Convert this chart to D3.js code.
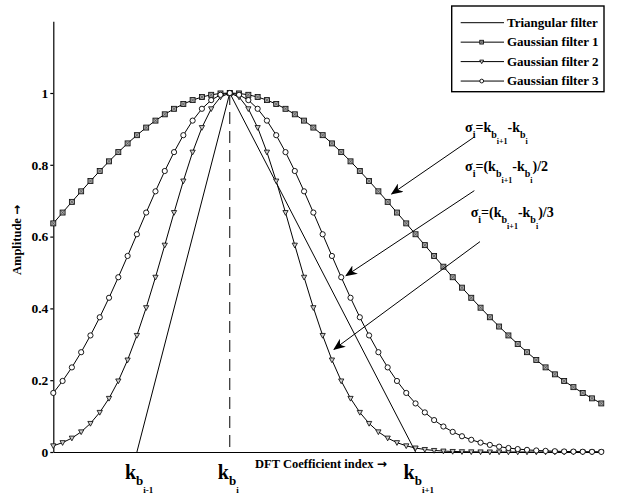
<!DOCTYPE html>
<html><head><meta charset="utf-8">
<script src="https://cdn.jsdelivr.net/npm/d3@7"></script>
<style>
body{margin:0;background:#fff}
text{font-family:"Liberation Serif","Times New Roman",serif;font-weight:bold;fill:#000}
.arr{font-family:"DejaVu Sans",sans-serif;font-weight:bold}
</style>
</head><body><svg id="c" width="628" height="496"></svg>
<script>
// ---- data ----
const coeffIndex = [0,1,2,3,4,5,6,7,8,9,10,11,12,13,14,15,16,17,18,19,20,21,22,23,24,25,26,27,28,29,
  30,31,32,33,34,35,36,37,38,39,40,41,42,43,44,45,46,47,48,49,50,51,52,53,54,55,56,57,58,59];
// Gaussian filter 1 (sigma = k_{b,i+1} - k_{b,i}), squares
const gauss1 = [0.6368,0.6670,0.6968,0.7261,0.7548,0.7827,0.8096,0.8353,0.8596,0.8825,
  0.9037,0.9231,0.9406,0.9560,0.9692,0.9802,0.9888,0.9950,0.9988,1.0000,
  0.9988,0.9950,0.9888,0.9802,0.9692,0.9560,0.9406,0.9231,0.9037,0.8825,
  0.8596,0.8353,0.8096,0.7827,0.7548,0.7261,0.6968,0.6670,0.6368,0.6065,
  0.5762,0.5461,0.5162,0.4868,0.4578,0.4296,0.4020,0.3753,0.3495,0.3247,
  0.3008,0.2780,0.2563,0.2357,0.2163,0.1979,0.1806,0.1645,0.1494,0.1353];
// Gaussian filter 2 (sigma/3), triangles
const gauss2 = [0.0172,0.0261,0.0387,0.0561,0.0796,0.1103,0.1494,0.1979,0.2563,0.3247,
  0.4020,0.4868,0.5762,0.6670,0.7548,0.8353,0.9037,0.9560,0.9888,1.0000,
  0.9888,0.9560,0.9037,0.8353,0.7548,0.6670,0.5762,0.4868,0.4020,0.3247,
  0.2563,0.1979,0.1494,0.1103,0.0796,0.0561,0.0387,0.0261,0.0172,0.0111,
  0.0070,0.0043,0.0026,0.0015,0.0009,0.0005,0.0003,0.0001,0.0001,0,
  0,0,0,0,0,0,0,0,0,0];
// Gaussian filter 3 (sigma/2), circles
const gauss3 = [0.1645,0.1979,0.2357,0.2780,0.3247,0.3753,0.4296,0.4868,0.5461,0.6065,
  0.6670,0.7261,0.7827,0.8353,0.8825,0.9231,0.9560,0.9802,0.9950,1.0000,
  0.9950,0.9802,0.9560,0.9231,0.8825,0.8353,0.7827,0.7261,0.6670,0.6065,
  0.5461,0.4868,0.4296,0.3753,0.3247,0.2780,0.2357,0.1979,0.1645,0.1353,
  0.1103,0.0889,0.0710,0.0561,0.0439,0.0340,0.0261,0.0198,0.0149,0.0111,
  0.0082,0.0060,0.0043,0.0031,0.0022,0.0015,0.0011,0.0007,0.0005,0.0003];
// Triangular filter
const triX = [9, 19, 39];
const triY = [0, 1, 0];
const peakIndex = 19;

const yTicks = [0, 0.2, 0.4, 0.6, 0.8, 1];
const yTickLabels = ["0", "0.2", "0.4", "0.6", "0.8", "1"];
const legendLabels = ["Triangular filter", "Gaussian filter 1", "Gaussian filter 2", "Gaussian filter 3"];
const legendMarkers = ["none", "square", "tri", "circle"];
const xLabel = "DFT Coefficient index";
const yLabel = "Amplitude";
const arrowGlyph = "\u2192";
const kLabels = [
  [["k",0],["b",1],["i-1",2]],
  [["k",0],["b",1],["i",2]],
  [["k",0],["b",1],["i+1",2]]
];
const sigmaLabels = [
  [["\u03c3",0],["i",1],["=k",0],["b",1],["i+1",2],["-k",0],["b",1],["i",2]],
  [["\u03c3",0],["i",1],["=(k",0],["b",1],["i+1",2],["-k",0],["b",1],["i",2],[")/2",0]],
  [["\u03c3",0],["i",1],["=(k",0],["b",1],["i+1",2],["-k",0],["b",1],["i",2],[")/3",0]]
];
// annotation anchors in data units: [textX, textY, arrowFromX, arrowFromY, arrowToX, arrowToY]
const sigmaAnchors = [
  [44.33, 0.890, 45.30, 0.877, 36.43, 0.719],
  [44.33, 0.784, 45.33, 0.728, 31.51, 0.491],
  [44.94, 0.655, 45.94, 0.586, 30.22, 0.286]
];

// ---- drawing ----
const svg = d3.select("#c");
const x = d3.scaleLinear().domain([0, 59]).range([53.3, 601.3]);
const y = d3.scaleLinear().domain([0, 1.2]).range([452, 21.2]);

svg.append("defs").append("marker")
  .attr("id","ah").attr("viewBox","0 0 12 10").attr("refX",11).attr("refY",5)
  .attr("markerWidth",12).attr("markerHeight",10).attr("markerUnits","userSpaceOnUse")
  .attr("orient","auto")
  .append("path").attr("d","M0,0 L12,5 L0,10 L3.5,5 Z").attr("fill","#000");

// axes
const yAxis = d3.axisLeft(y).tickValues(yTicks).tickFormat((d,i)=>yTickLabels[i])
  .tickSize(3).tickSizeOuter(0).tickPadding(2);
const gy = svg.append("g").attr("transform",`translate(${x(0)},0)`).call(yAxis);
gy.selectAll("text").style("font-size","13.5px").style("font-family",'"Liberation Serif","Times New Roman",serif').style("font-weight","bold");
gy.selectAll("path,line").attr("stroke","#000").attr("stroke-width",1.2);

const xAxis = d3.axisBottom(x).tickValues([]).tickSizeOuter(0);
const gx = svg.append("g").attr("transform",`translate(0,${y(0)})`).call(xAxis);
gx.selectAll("path").attr("stroke","#000").attr("stroke-width",1.2);

// dashed peak line
svg.append("line")
  .attr("x1",x(peakIndex)).attr("x2",x(peakIndex))
  .attr("y1",y(1)).attr("y2",y(0))
  .attr("stroke","#000").attr("stroke-width",1).attr("stroke-dasharray","12,7");

const line = d3.line().x(d=>x(d[0])).y(d=>y(d[1]));

// triangular filter
svg.append("path").datum(triX.map((v,i)=>[v,triY[i]]))
  .attr("d",line).attr("fill","none").attr("stroke","#000").attr("stroke-width",1);

function drawMarker(g, type, cx, cy, s) {
  if (type === "square") {
    g.append("rect").attr("x",cx-s).attr("y",cy-s).attr("width",2*s).attr("height",2*s)
      .attr("fill","#a8a8a8").attr("stroke","#000").attr("stroke-width",0.8);
    g.append("path").attr("d",`M${cx-s},${cy-s}L${cx+s},${cy+s}M${cx+s},${cy-s}L${cx-s},${cy+s}`)
      .attr("stroke","#333").attr("stroke-width",0.5);
  } else if (type === "tri") {
    g.append("path").attr("d",`M${cx-s*1.05},${cy-s*0.8}L${cx+s*1.05},${cy-s*0.8}L${cx},${cy+s*1.1}Z`)
      .attr("fill","#ccc").attr("stroke","#000").attr("stroke-width",0.8);
  } else if (type === "circle") {
    g.append("circle").attr("cx",cx).attr("cy",cy).attr("r",s)
      .attr("fill","#fff").attr("stroke","#000").attr("stroke-width",0.9);
  }
}

const series = [
  {vals: gauss1, m: "square"},
  {vals: gauss2, m: "tri"},
  {vals: gauss3, m: "circle"}
];
series.forEach(sr => {
  const pts = coeffIndex.map((c,i)=>[c, sr.vals[i]]);
  svg.append("path").datum(pts).attr("d",line).attr("fill","none")
    .attr("stroke","#000").attr("stroke-width",1);
});
series.forEach(sr => {
  const g = svg.append("g");
  coeffIndex.forEach((c,i)=>drawMarker(g, sr.m, x(c), y(sr.vals[i]), sr.m==="circle"?2.6:2.5));
});

// rich text helper
function richText(g, px, py, pieces, sizes, offs) {
  const t = g.append("text").attr("x",px).attr("y",py);
  let prev = 0;
  pieces.forEach(([s,l]) => {
    t.append("tspan").attr("dy", offs[l]-offs[prev]).style("font-size", sizes[l]+"px").text(s);
    prev = l;
  });
  return t;
}

// bottom k labels
kLabels.forEach((pc,i) => {
  richText(svg, x(triX[i]) - 12, 479, pc, [20,13,9], [0,6,14]);
});

// axis titles
const xt = svg.append("text").attr("x",255).attr("y",468).style("font-size","12.5px");
xt.append("tspan").text(xLabel + " ");
xt.append("tspan").attr("class","arr").style("font-size","12px").text(arrowGlyph);
const yt = svg.append("text").attr("transform","translate(21,240) rotate(-90)")
  .attr("text-anchor","middle").style("font-size","12.5px");
yt.append("tspan").text(yLabel + " ");
yt.append("tspan").attr("class","arr").style("font-size","12px").text(arrowGlyph);

// sigma annotations with arrows
sigmaAnchors.forEach((a,i) => {
  richText(svg, x(a[0]), y(a[1]), sigmaLabels[i], [14,10,8], [0,6,12]);
  svg.append("line").attr("x1",x(a[2])).attr("y1",y(a[3])).attr("x2",x(a[4])).attr("y2",y(a[5]))
    .attr("stroke","#000").attr("stroke-width",1).attr("marker-end","url(#ah)");
});

// legend
const lg = svg.append("g");
lg.append("rect").attr("x",451.7).attr("y",6).attr("width",152.3).attr("height",85.7)
  .attr("fill","#fff").attr("stroke","#000").attr("stroke-width",1.4);
legendLabels.forEach((lab,i) => {
  const cy = 22.7 + i*19.45;
  lg.append("line").attr("x1",460.7).attr("x2",504).attr("y1",cy).attr("y2",cy)
    .attr("stroke","#000").attr("stroke-width",1);
  drawMarker(lg, legendMarkers[i], 481.7, cy, 1.9);
  lg.append("text").attr("x",507).attr("y",cy+4.3).style("font-size","13px").text(lab);
});
</script>
</body></html>
